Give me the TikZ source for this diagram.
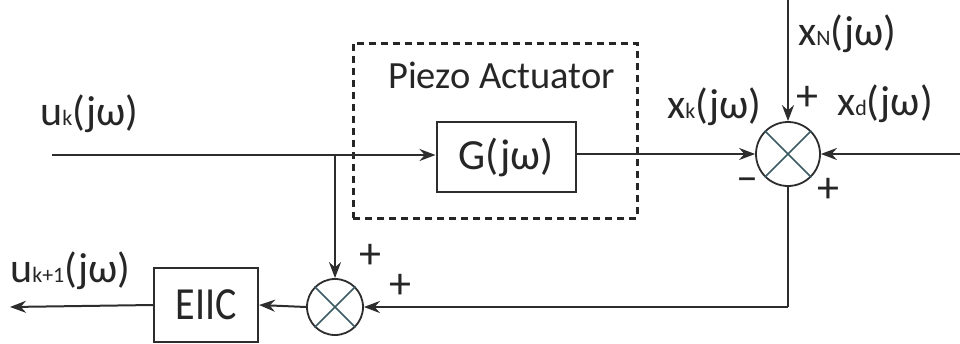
\documentclass[tikz,border=0pt]{standalone}
\usepackage{fontspec}
\setmainfont{Carlito}
\usetikzlibrary{arrows.meta}
\definecolor{ln}{RGB}{45,45,45}
\definecolor{crs}{RGB}{60,90,100}
\newcommand{\sbs}[1]{{\fontsize{22}{22}\selectfont #1}}
\begin{document}
\begin{tikzpicture}[x=1pt,y=-1pt,
  conn/.style={draw=ln,line width=2pt,-{Stealth[length=16pt,width=12pt]}},
  plain/.style={draw=ln,line width=2pt},
  blk/.style={draw=ln,line width=2pt,fill=white,inner sep=0pt,text=black!85},
  sumj/.style={draw=ln,line width=1.8pt,circle,inner sep=0pt,fill=white},
  lbl/.style={anchor=base west,inner sep=0pt,font=\fontsize{42}{42}\selectfont,text=black!85},
  sgn/.style={inner sep=0pt,font=\fontsize{44}{44}\selectfont,text=black!85}]
\useasboundingbox (0,0) rectangle (960,343);
% dashed actuator frame
\node[draw=black!85,line width=3pt,dash pattern=on 7pt off 5pt,minimum width=284pt,minimum height=175pt,inner sep=0pt] (frame) at (495,130.5) {};
\node[lbl,font=\fontsize{38.5}{38.5}\selectfont] (piezo) at (388,88) {Piezo Actuator};
% blocks
\node[blk,minimum width=139pt,minimum height=70pt,font=\fontsize{43}{43}\selectfont] (G) at (506,157) {G(jω)};
\node[sumj,minimum size=64pt] (S1) at (788,154) {};
\node[sumj,minimum size=56pt] (S2) at (335,307) {};
\node[blk,minimum width=104pt,minimum height=74pt,font=\fontsize{40}{40}\selectfont] (E) at (206,305) {\scalebox{1}[1.15]{EIIC}};
% crosses
\draw[crs,line width=1.5pt] (S1.north west) -- (S1.south east) (S1.north east) -- (S1.south west);
\draw[crs,line width=1.5pt] (S2.north west) -- (S2.south east) (S2.north east) -- (S2.south west);
% coordinates
\coordinate (in) at (52,155);
\coordinate (br) at (335,155);
\coordinate (xn) at (788,0);
\coordinate (xd) at (960,154);
\coordinate (corner) at (788,307);
\coordinate (out) at (10,307);
% connectors
\draw[conn] (in) -- (G.west |- in);
\draw[conn] (br) -- (S2.north);
\draw[conn] (G.east |- S1.west) -- (S1.west);
\draw[conn] (xn) -- (S1.north);
\draw[conn] (xd) -- (S1.east);
\draw[plain] (S1.south) -- (corner);
\draw[conn] (corner) -- (S2.east);
\draw[conn] (S2.west) -- (E.east);
\draw[conn] (E.west) -- (out);
% labels
\node[lbl] (luk) at (40,125) {u\sbs{k}(jω)};
\node[lbl] (lxk) at (667,118) {x\sbs{k}(jω)};
\node[lbl] (lxn) at (798,45) {x\sbs{N}(jω)};
\node[lbl] (lxd) at (837,115) {x\sbs{d}(jω)};
\node[lbl] (luk1) at (10,282) {u\sbs{k+1}(jω)};
\node[sgn] (p1) at (807,98) {+};
\node[sgn] (m1) at (747,185) {–};
\node[sgn] (p2) at (828,190) {+};
\node[sgn] (p3) at (370,256) {+};
\node[sgn] (p4) at (400,286) {+};
\end{tikzpicture}
\end{document}
